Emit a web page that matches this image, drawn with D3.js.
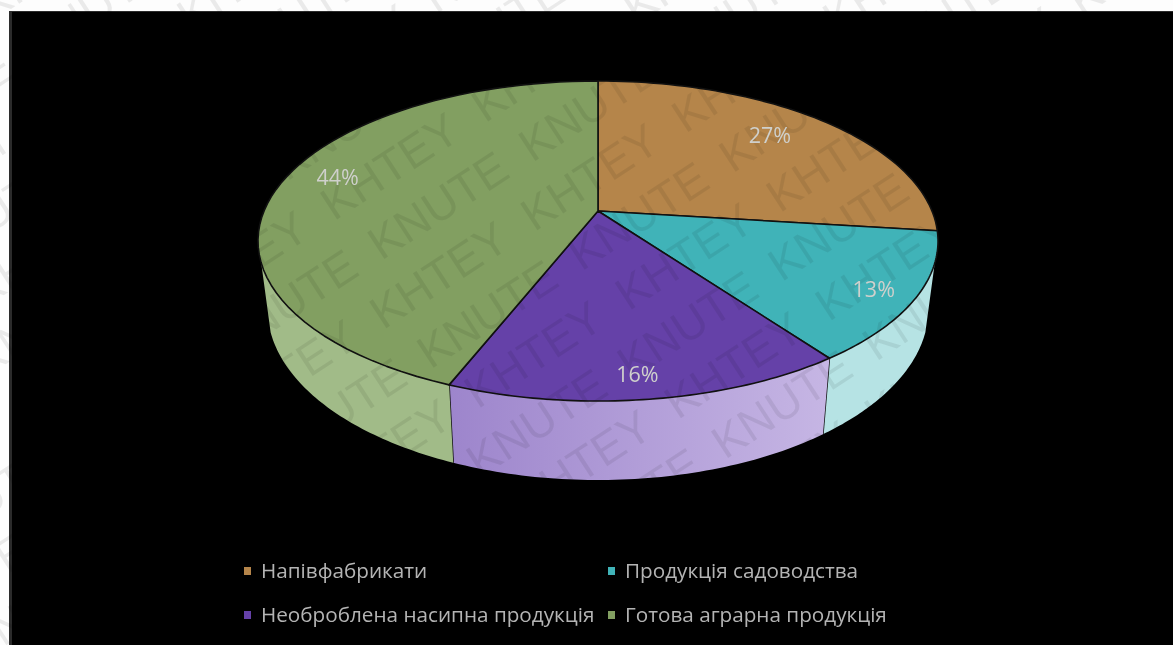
<!DOCTYPE html>
<html><head><meta charset="utf-8">
<style>html,body{margin:0;padding:0;background:#fdfdfd;overflow:hidden}svg{display:block;filter:blur(0.45px)}</style>
<script src="https://cdn.jsdelivr.net/npm/d3@7"></script></head>
<body><svg id="c" width="1173" height="645"></svg>
<script>
const categories = ["Напівфабрикати","Продукція садоводства","Необроблена насипна продукція","Готова аграрна продукція"];
const values = [27,13,16,44];
const labels = ["27%","13%","16%","44%"];
const topColors = ["#b5854a","#40b3b8","#6541a8","#829f61"];
const sideColors = ["#d8bb94","#b6e3e4","url(#purpleSide)","#a1bb88"];
const labelRadius = [0.75,0.87,0.87,0.8];
const labelNudge = [[0,-6],[3,3],[-4,3],[-5,-12]];
const watermarkWords = ["KNUTE","KHTEY"];

const W=1173,H=645, cx=598, cy=211, A=334, B=154.4, p=0.1875;
const sideFrom=108.5*Math.PI/180, sideTo=251.5*Math.PI/180;
const svg=d3.select("#c");
const defs=svg.append("defs");
const g=defs.append("linearGradient").attr("id","purpleSide");
g.append("stop").attr("offset","0%").attr("stop-color","#9d85cc");
g.append("stop").attr("offset","100%").attr("stop-color","#c6b6e4");
defs.append("clipPath").attr("id","frame").append("rect").attr("width",W).attr("height",H);

// perspective projection of the tilted disc
const proj=(t,r=1)=>{const u=r*Math.sin(t),v=r*Math.cos(t),d=1+p*v;return [cx+A*u/d,cy-B*v/d];};
const lower=([x,y])=>[cx+0.972*(x-cx),480+1.07*(y-401)];
const arcPts=(a,b)=>d3.range(0,61).map(i=>proj(a+(b-a)*i/60));
const line=d3.line();

svg.append("rect").attr("width",W).attr("height",H).attr("fill","#fdfdfd");
svg.append("rect").attr("x",9).attr("y",11).attr("width",W-9).attr("height",H-11).attr("fill","#2b2b2b");
svg.append("rect").attr("x",12).attr("y",12).attr("width",W-12).attr("height",H-12).attr("fill","#000");

const arcs=d3.pie().sort(null).value(d=>d)(values);

// side wall
const side=svg.append("g");
arcs.forEach((a,i)=>{
  const s=Math.max(a.startAngle,sideFrom), e=Math.min(a.endAngle,sideTo);
  if(e<=s) return;
  const t=arcPts(s,e), b=t.map(lower).reverse();
  side.append("path").attr("d",line(t.concat(b))+"Z").attr("fill",sideColors[i]);
  if(a.endAngle<sideTo){
    const q=proj(a.endAngle);
    side.append("path").attr("d",line([q,lower(q)])).attr("stroke","#111").attr("stroke-width",1.5).attr("fill","none");
  }
});
// top face
const topG=svg.append("g");
arcs.forEach((a,i)=>{
  topG.append("path").attr("d",line([[cx,cy]].concat(arcPts(a.startAngle,a.endAngle)))+"Z")
    .attr("fill",topColors[i]).attr("stroke","#111").attr("stroke-width",1.6).attr("stroke-linejoin","round");
});

// watermark: dark, so it only shows where the page is not black
const rot=33*Math.PI/180, wordW=156, step=180, rowGap=59;
const toPage=(xr,yr)=>[cx+xr*Math.cos(rot)+yr*Math.sin(rot), cy-xr*Math.sin(rot)+yr*Math.cos(rot)];
const wm=svg.append("g").attr("clip-path","url(#frame)").append("g")
  .attr("transform",`rotate(-33 ${cx} ${cy})`)
  .attr("font-family","Liberation Sans").attr("font-size",46).attr("fill","#000").attr("fill-opacity",0.075);
d3.range(-12,13).forEach(r=>{
  const word=watermarkWords[(r+21)%2], yr=-17+r*rowGap;
  d3.range(-6,7).forEach(k=>{
    const xr=-65+((r+24)%3)*18+k*step;
    const samples=d3.range(0,11).map(j=>toPage(xr+wordW*j/10,yr));
    const show=samples.some(([x,y])=>x>=-10&&x<=W&&y>=-10&&(y<14||x<12||(x>250&&x<945&&y>75&&y<490)));
    if(show) wm.append("text").attr("x",cx+xr).attr("y",cy+yr).text(word);
  });
});

// value labels
arcs.forEach((a,i)=>{
  const [x,y]=proj((a.startAngle+a.endAngle)/2,labelRadius[i]);
  svg.append("text").attr("x",x+labelNudge[i][0]).attr("y",y+labelNudge[i][1]).attr("text-anchor","middle")
    .attr("dominant-baseline","central").attr("font-family","Open Sans").attr("font-size",21.5)
    .attr("fill","#cfd0cc").text(labels[i]);
});

// legend
const lx=[244,608], ly=[571,615];
categories.forEach((c,i)=>{
  const x=lx[i%2], y=ly[Math.floor(i/2)];
  svg.append("rect").attr("x",x).attr("y",y-4).attr("width",7).attr("height",8).attr("fill",topColors[i]);
  svg.append("text").attr("x",x+17).attr("y",y-1).attr("dominant-baseline","central")
    .attr("font-family","Open Sans").attr("font-size",20.7).attr("fill","#b4b4b4").text(c);
});
</script></body></html>
